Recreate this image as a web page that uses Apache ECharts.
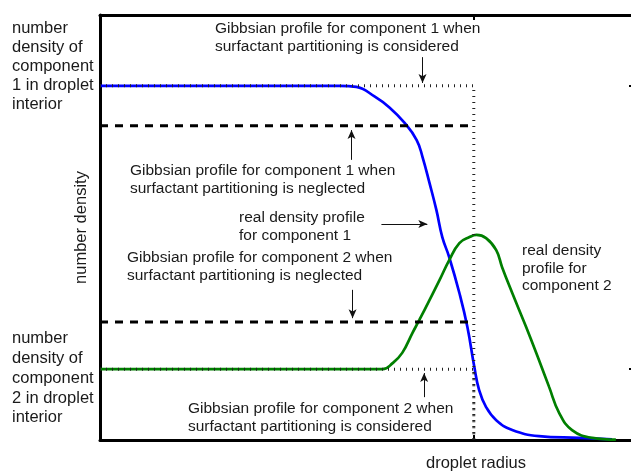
<!DOCTYPE html>
<head>
    <meta charset="utf-8">
    <title>number density profiles</title>
    <style>
        html, body { margin: 0; padding: 0; background: #fff; overflow: hidden; }
    </style>
</head>
<body>
    <div id="main" style="width:634px;height:471px"></div>
    <script src="https://cdn.jsdelivr.net/npm/echarts@6/dist/echarts.min.js"></script>
    <script type="text/javascript">

    // radius values (x) and number densities (y)
    var gibbsRadius = 7;
    var comp1Interior = 1.0;
    var comp2Interior = 0.2;
    var comp1Neglected = 0.887;
    var comp2Neglected = 0.333;

    var realProfile1 = [
        [0, 1.0], [2, 1.0], [4.49, 1.0], [4.80, 0.997], [5.14, 0.970], [5.42, 0.939],
        [5.70, 0.896], [5.93, 0.847], [6.04, 0.799], [6.17, 0.726], [6.30, 0.649],
        [6.41, 0.573], [6.54, 0.516], [6.73, 0.415], [6.88, 0.319], [7.01, 0.206],
        [7.10, 0.141], [7.23, 0.093], [7.42, 0.056], [7.72, 0.028], [8.22, 0.011],
        [8.97, 0.006], [9.59, 0.002]
    ];
    var realProfile2 = [
        [0, 0.2], [2, 0.2], [5.29, 0.2], [5.48, 0.217], [5.66, 0.246], [5.85, 0.302],
        [5.98, 0.339], [6.17, 0.395], [6.36, 0.452], [6.54, 0.508], [6.73, 0.556],
        [6.92, 0.573], [7.05, 0.579], [7.23, 0.570], [7.42, 0.536], [7.53, 0.488],
        [7.72, 0.415], [7.98, 0.319], [8.22, 0.226], [8.41, 0.150], [8.60, 0.076],
        [8.84, 0.028], [9.22, 0.006], [9.66, 0.001]
    ];

    // annotation arrows: [x from, y from, x to, y to]
    var arrows = [
        [6.04, 1.081, 6.04, 1.008],
        [4.71, 0.791, 4.71, 0.875],
        [5.27, 0.610, 6.13, 0.610],
        [4.73, 0.424, 4.73, 0.344],
        [6.07, 0.121, 6.07, 0.189]
    ];

    var xTicks = [gibbsRadius];
    var yTicks = [comp2Interior, comp1Interior];

    var textColor = '#1a1a1a';
    var fontFamily = '"Liberation Sans", Arial, Helvetica, sans-serif';

    var myChart = echarts.init(document.getElementById("main"));

    function axisBase(ticks) {
        return {
            type: 'value',
            axisLine: { show: true, onZero: false, lineStyle: { color: '#000', width: 3 } },
            axisTick: { show: true, inside: true, length: 5, customValues: ticks,
                        lineStyle: { color: '#000', width: 2 } },
            axisLabel: { show: false },
            splitLine: { show: false }
        };
    }

    var xBottom = axisBase(xTicks);
    xBottom.position = 'bottom'; xBottom.min = 0; xBottom.max = 10;
    var xTop = axisBase(xTicks);
    xTop.position = 'top'; xTop.min = 0; xTop.max = 10;
    var yLeft = axisBase(yTicks);
    yLeft.position = 'left'; yLeft.min = 0; yLeft.max = 1.2;
    yLeft.name = 'number density';
    yLeft.nameLocation = 'middle';
    yLeft.nameGap = 10;
    yLeft.nameTextStyle = { color: textColor, fontSize: 16.5, fontFamily: fontFamily };
    var yRight = axisBase(yTicks);
    yRight.position = 'right'; yRight.min = 0; yRight.max = 1.2;

    function note(x, y, lines, size, lh) {
        return {
            type: 'text', x: x, y: y, silent: true,
            style: {
                text: lines.join('\n'), fill: textColor, fontSize: size,
                fontFamily: fontFamily, lineHeight: lh,
                align: 'left', verticalAlign: 'top'
            }
        };
    }

    option = {
        animation: false,
        backgroundColor: '#fff',
        grid: { left: 100, right: 0, top: 15, bottom: 31, containLabel: false },
        xAxis: [xBottom, xTop],
        yAxis: [yLeft, yRight],
        series: [
            {
                name: 'real density profile for component 1',
                type: 'line', data: realProfile1, smooth: 0.45, showSymbol: false,
                lineStyle: { color: '#0000ff', width: 2.7 }, z: 2
            },
            {
                name: 'real density profile for component 2',
                type: 'line', data: realProfile2, smooth: 0.45, showSymbol: false,
                lineStyle: { color: '#007f00', width: 2.7 }, z: 2
            },
            {
                name: 'Gibbsian 1 considered',
                type: 'line', showSymbol: false, z: 3,
                data: [[0, comp1Interior], [gibbsRadius, comp1Interior], [gibbsRadius, 0]],
                lineStyle: { color: '#222', width: 3, type: [1, 5] }
            },
            {
                name: 'Gibbsian 2 considered',
                type: 'line', showSymbol: false, z: 3,
                data: [[0, comp2Interior], [gibbsRadius, comp2Interior], [gibbsRadius, 0]],
                lineStyle: { color: '#222', width: 3, type: [1, 5] }
            },
            {
                name: 'Gibbsian 1 neglected',
                type: 'line', showSymbol: false, z: 4,
                data: [[0, comp1Neglected], [gibbsRadius, comp1Neglected]],
                lineStyle: { color: '#000', width: 3, type: [8, 7] }
            },
            {
                name: 'Gibbsian 2 neglected',
                type: 'line', showSymbol: false, z: 4,
                data: [[0, comp2Neglected], [gibbsRadius, comp2Neglected]],
                lineStyle: { color: '#000', width: 3, type: [8, 7] }
            },
            {
                name: 'arrows',
                type: 'line', data: [], z: 5,
                markLine: {
                    silent: true, animation: false,
                    symbol: ['none', 'arrow'], symbolSize: [6, 9],
                    label: { show: false },
                    lineStyle: { color: '#111', width: 1, type: 'solid' },
                    data: arrows.map(function (a) {
                        return [{ coord: [a[0], a[1]] }, { coord: [a[2], a[3]] }];
                    })
                }
            }
        ],
        graphic: [
            note(12, 18.5, ['number', 'density of', 'component', '1 in droplet', 'interior'], 16.5, 19),
            note(12, 329, ['number', 'density of', 'component', '2 in droplet', 'interior'], 16.5, 19.75),
            note(215, 20, ['Gibbsian profile for component 1 when', 'surfactant partitioning is considered'], 15.5, 18),
            note(130, 162, ['Gibbsian profile for component 1 when', 'surfactant partitioning is neglected'], 15.5, 18),
            note(239, 209, ['real density profile', 'for component 1'], 15.5, 18),
            note(127, 249, ['Gibbsian profile for component 2 when', 'surfactant partitioning is neglected'], 15.5, 18),
            note(522, 242, ['real density', 'profile for', 'component 2'], 15.5, 17.5),
            note(188, 400, ['Gibbsian profile for component 2 when', 'surfactant partitioning is considered'], 15.5, 18),
            {
                type: 'text', x: 476, y: 463, silent: true,
                style: { text: 'droplet radius', fill: textColor, fontSize: 16.5,
                         fontFamily: fontFamily, align: 'center', verticalAlign: 'middle' }
            }
        ]
    };
    myChart.setOption(option);

</script>
</body>
